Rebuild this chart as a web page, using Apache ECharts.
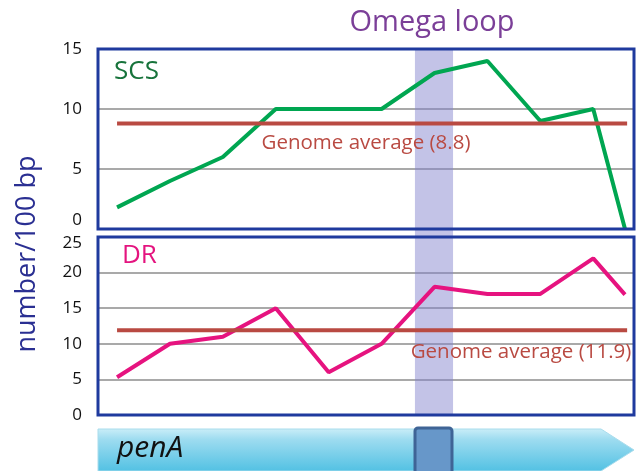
<!DOCTYPE html>
<html>
<head>
<meta charset="utf-8">
<script src="https://cdn.jsdelivr.net/npm/echarts@6/dist/echarts.min.js"></script>
<style>
  html, body { margin: 0; padding: 0; background: #fff; }
  #chart { width: 638px; height: 471px; }
</style>
</head>
<body>
<div id="chart"></div>
<script>
// positions along penA (window index), last window is a partial one
const xPos = [0, 1, 2, 3, 4, 5, 6, 7, 8, 9, 9.6];
const scsValues = [1.8, 4, 6, 10, 10, 10, 13, 14, 9, 10, 0];
const drValues = [5.3, 10, 11, 15, 6, 10, 18, 17, 17, 22, 16.9];
const scsAverage = 8.8;
const drAverage = 11.9;
const averageSpan = [0, 9.64];
const omegaLoop = [5.63, 6.35];

const chart = echarts.init(document.getElementById("chart"));
const font = "'Open Sans', 'Noto Sans', sans-serif";

function pairs(values) {
  return xPos.map((x, i) => [x, values[i]]);
}

// nudge the labels that sit where the two panels meet
function scsLabel(v) {
  return v === 0 ? "{lo|0}" : String(v);
}
function drLabel(v) {
  return v === 25 ? "{hi|25}" : String(v);
}

const xCommon = { type: "value", min: -0.36, max: 9.77, show: false };
const tickText = { fontSize: 17, fontFamily: font, color: "#111" };
const splitLine = { show: true, lineStyle: { color: "#8c8c8c", width: 1.5 } };

chart.setOption({
  animation: false,
  grid: [
    // SCS panel
    { left: 98, width: 536, top: 49, height: 180, show: true, z: 5,
      borderColor: "#1f3a9e", borderWidth: 3, backgroundColor: "transparent" },
    // DR panel
    { left: 98, width: 536, top: 237, height: 178, show: true, z: 5,
      borderColor: "#1f3a9e", borderWidth: 3, backgroundColor: "transparent" },
    // band across both panels
    { left: 98, width: 536, top: 49, height: 366 }
  ],
  xAxis: [
    Object.assign({ gridIndex: 0 }, xCommon),
    Object.assign({ gridIndex: 1 }, xCommon),
    Object.assign({ gridIndex: 2 }, xCommon)
  ],
  yAxis: [
    {
      gridIndex: 0, type: "value", min: 0, max: 15, interval: 5,
      axisLine: { show: false }, axisTick: { show: false },
      splitLine: splitLine,
      axisLabel: Object.assign({ margin: 16, formatter: scsLabel,
        rich: { lo: Object.assign({ padding: [0, 0, 18, 0] }, tickText) } }, tickText)
    },
    {
      gridIndex: 1, type: "value", min: 0, max: 25, interval: 5,
      axisLine: { show: false }, axisTick: { show: false },
      splitLine: splitLine,
      axisLabel: Object.assign({ margin: 16, formatter: drLabel,
        rich: { hi: Object.assign({ padding: [12, 0, 0, 0] }, tickText) } }, tickText)
    },
    { gridIndex: 2, type: "value", min: 0, max: 1, show: false }
  ],
  series: [
    {
      name: "SCS", type: "line", xAxisIndex: 0, yAxisIndex: 0, z: 2,
      data: pairs(scsValues), symbol: "none",
      lineStyle: { color: "#00a651", width: 4 }
    },
    {
      name: "SCS average", type: "line", xAxisIndex: 0, yAxisIndex: 0, z: 2,
      data: averageSpan.map(x => [x, scsAverage]), symbol: "none",
      lineStyle: { color: "#b94a42", width: 4 }
    },
    {
      name: "DR", type: "line", xAxisIndex: 1, yAxisIndex: 1, z: 2,
      data: pairs(drValues), symbol: "none",
      lineStyle: { color: "#e6137f", width: 4 }
    },
    {
      name: "DR average", type: "line", xAxisIndex: 1, yAxisIndex: 1, z: 2,
      data: averageSpan.map(x => [x, drAverage]), symbol: "none",
      lineStyle: { color: "#b94a42", width: 4 }
    },
    {
      name: "Omega loop", type: "line", xAxisIndex: 2, yAxisIndex: 2, z: 3,
      data: [], silent: true,
      markArea: {
        silent: true,
        itemStyle: { color: "rgba(130,130,205,0.48)" },
        data: [[{ xAxis: omegaLoop[0] }, { xAxis: omegaLoop[1] }]]
      }
    }
  ],
  graphic: [
    {
      type: "text", x: 432, y: 23, z: 10,
      style: { text: "Omega loop", fill: "#7b3f98", fontSize: 29, fontFamily: font,
        textAlign: "center", textVerticalAlign: "middle" }
    },
    {
      type: "text", x: 27, y: 254, rotation: Math.PI / 2, z: 10,
      style: { text: "number/100 bp", fill: "#2a2f92", fontSize: 27, fontFamily: font,
        textAlign: "center", textVerticalAlign: "middle" }
    },
    {
      type: "text", left: 114, top: 59, z: 10,
      style: { text: "SCS", fill: "#17733b", fontSize: 26, fontFamily: font }
    },
    {
      type: "text", left: 122, top: 243, z: 10,
      style: { text: "DR", fill: "#e4147f", fontSize: 26, fontFamily: font }
    },
    {
      type: "text", x: 366, y: 143, z: 10,
      style: { text: "Genome average (8.8)", fill: "#b94a42", fontSize: 20.5, fontFamily: font,
        textAlign: "center", textVerticalAlign: "middle" }
    },
    {
      type: "text", x: 521, y: 352, z: 10,
      style: { text: "Genome average (11.9)", fill: "#b94a42", fontSize: 20.5, fontFamily: font,
        textAlign: "center", textVerticalAlign: "middle" }
    },
    // penA gene arrow
    {
      type: "polygon", z: 10,
      shape: { points: [[98, 429], [601, 429], [634, 450], [601, 471], [98, 471]] },
      style: {
        fill: new echarts.graphic.LinearGradient(0, 0, 0, 1, [
          { offset: 0, color: "#cbeef8" },
          { offset: 0.25, color: "#9edcf0" },
          { offset: 1, color: "#52c1e3" }
        ]),
        stroke: "#a9dcec", lineWidth: 1
      }
    },
    {
      type: "rect", z: 11,
      shape: { x: 415, y: 428, width: 37, height: 48, r: 3 },
      style: { fill: "#6797c9", stroke: "#3f6496", lineWidth: 3 }
    },
    {
      type: "text", left: 117, top: 433, z: 11,
      style: { text: "penA", fill: "#111", fontSize: 30, fontStyle: "italic", fontFamily: font }
    }
  ]
});
</script>
</body>
</html>
